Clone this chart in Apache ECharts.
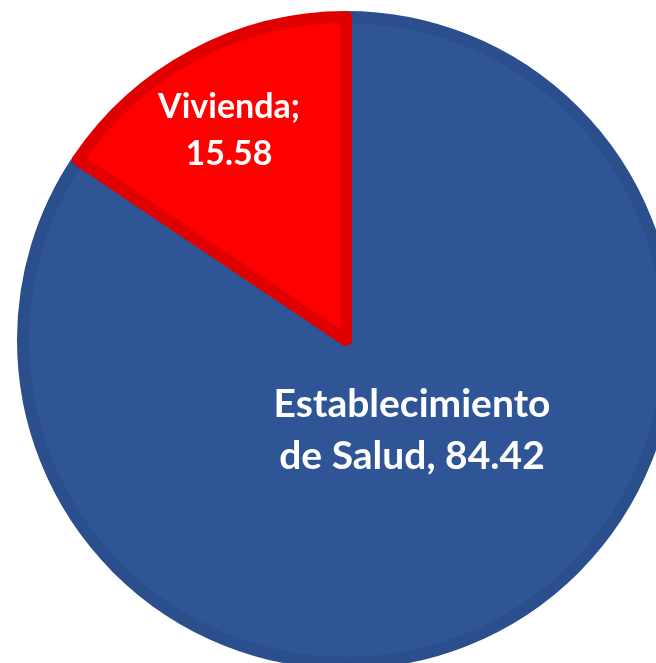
<!DOCTYPE html>
<html>
<head>
<meta charset="utf-8">
<script src="https://cdn.jsdelivr.net/npm/echarts@6/dist/echarts.min.js"></script>
<style>
  html, body { margin: 0; padding: 0; background: #fff; }
  #chart { width: 656px; height: 663px; }
</style>
</head>
<body>
<div id="chart"></div>
<script>
const categories = ['Establecimiento de Salud', 'Vivienda'];
const values = [84.42, 15.58];
const labelTexts = ['Establecimiento\nde Salud, 84.42', 'Vivienda;\n15.58'];

const fills = ['#2F5597', '#FF0000'];
const borders = ['#2B4F8C', '#E00000'];
// label anchor points (pixels)
const labelPos = [[412, 430], [229, 131]];
const labelSize = [39, 34];
const labelLine = [52, 47];

const chart = echarts.init(document.getElementById('chart'));

chart.setOption({
  animation: false,
  series: [{
    type: 'pie',
    center: [346, 340],
    radius: [0, 323],
    startAngle: 90,
    clockwise: true,
    data: categories.map((name, i) => ({
      name,
      value: values[i],
      itemStyle: { color: fills[i], borderColor: borders[i], borderWidth: 12, borderJoin: 'round' },
      label: {
        formatter: labelTexts[i],
        fontSize: labelSize[i],
        lineHeight: labelLine[i]
      }
    })),
    label: {
      show: true,
      position: 'inside',
      color: '#fff',
      fontFamily: 'Lato',
      fontWeight: 'bold',
      align: 'center'
    },
    labelLine: { show: false },
    labelLayout: (p) => ({ x: labelPos[p.dataIndex][0], y: labelPos[p.dataIndex][1], align: 'center', verticalAlign: 'middle' })
  }]
});
</script>
</body>
</html>
